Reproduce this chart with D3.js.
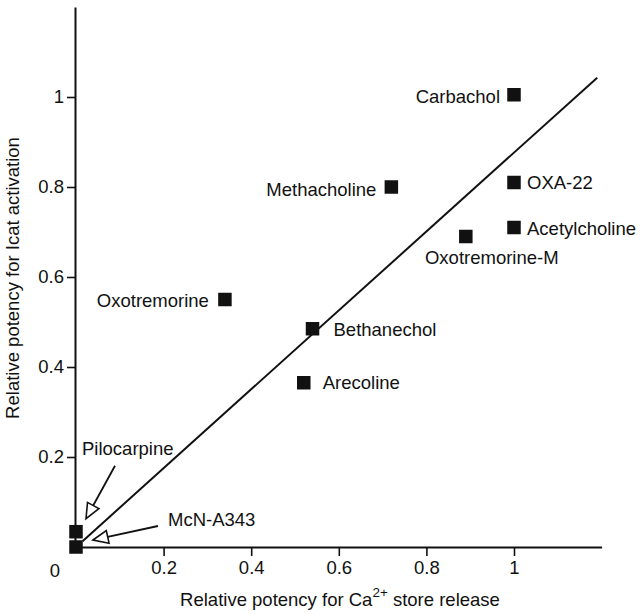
<!DOCTYPE html>
<html>
<head>
<meta charset="utf-8">
<script src="https://cdn.jsdelivr.net/npm/d3@7"></script>
<style>
  html, body { margin: 0; padding: 0; background: #fff; }
  svg { display: block; }
  text { font-family: "Liberation Sans", Arial, Helvetica, sans-serif; fill: #111; }
</style>
</head>
<body>
<svg id="chart" width="640" height="614"></svg>
<script>
// ---- data ----
const agonists = ["Carbachol", "OXA-22", "Acetylcholine", "Oxotremorine-M", "Methacholine",
                  "Oxotremorine", "Bethanechol", "Arecoline", "Pilocarpine", "McN-A343"];
const caPotency   = [1.00, 1.00, 1.00, 0.89, 0.72, 0.34, 0.54, 0.52, 0.00, 0.00];
const icatPotency = [1.005, 0.81, 0.71, 0.69, 0.80, 0.55, 0.485, 0.365, 0.034, 0.00];
const fitLineX = [0.015, 1.19];
const fitLineY = [0.013, 1.043];
const xTicks = [0.2, 0.4, 0.6, 0.8, 1];
const yTicks = [0.2, 0.4, 0.6, 0.8, 1];
const xTitle = ["Relative potency for Ca", "2+", " store release"];
const yTitle = "Relative potency for Icat activation";

// ---- label layout (pixel offsets from the point) ----
const labelLayout = {
  "Carbachol":      { dx: -14, dy: 8,  anchor: "end" },
  "OXA-22":         { dx: 13,  dy: 6,  anchor: "start" },
  "Acetylcholine":  { dx: 13,  dy: 7,  anchor: "start" },
  "Oxotremorine-M": { dx: 26,  dy: 27, anchor: "middle" },
  "Methacholine":   { dx: -15, dy: 9,  anchor: "end" },
  "Oxotremorine":   { dx: -16, dy: 7,  anchor: "end" },
  "Bethanechol":    { dx: 21,  dy: 7,  anchor: "start" },
  "Arecoline":      { dx: 19,  dy: 6,  anchor: "start" },
  "Pilocarpine":    { dx: 6,   dy: -77, anchor: "start" },
  "McN-A343":       { dx: 92,  dy: -21, anchor: "start" }
};
// arrows: from label to point (offsets in px relative to point)
const arrowLayout = {
  "Pilocarpine": { from: [39, -66], to: [10, -13] },
  "McN-A343":    { from: [82, -21], to: [17, -7] }
};

const FS = 18.5;
const svg = d3.select("#chart");
const x = d3.scaleLinear().domain([0, 1.2]).range([76, 601.6]);
const y = d3.scaleLinear().domain([0, 1.2]).range([547, 7]);

// axes
const xAxis = d3.axisBottom(x).tickValues(xTicks).tickFormat(d3.format("~g"))
  .tickSize(9).tickPadding(5).tickSizeOuter(0);
const yAxis = d3.axisLeft(y).tickValues(yTicks).tickFormat(d3.format("~g"))
  .tickSize(8).tickPadding(3).tickSizeOuter(0);

const gx = svg.append("g").attr("transform", `translate(0,${y(0)})`).call(xAxis);
const gy = svg.append("g").attr("transform", `translate(${x(0) - 1},0)`).call(yAxis);
[gx, gy].forEach(g => {
  g.select(".domain").attr("stroke", "#111").attr("stroke-width", 2);
  g.selectAll(".tick line").attr("stroke", "#111").attr("stroke-width", 1.6);
  g.selectAll(".tick text").attr("font-size", FS)
    .attr("font-family", '"Liberation Sans", Arial, sans-serif').attr("fill", "#111");
});
// origin label
svg.append("text").attr("x", x(0) - 21).attr("y", y(0) + 30)
  .attr("text-anchor", "middle").attr("font-size", FS).text("0");

// fit line
const line = d3.line().x(d => x(d[0])).y(d => y(d[1]));
svg.append("path").datum(fitLineX.map((v, i) => [v, fitLineY[i]]))
  .attr("d", line).attr("fill", "none").attr("stroke", "#111").attr("stroke-width", 2);

// points
const pts = agonists.map((name, i) => ({ name, cx: caPotency[i], cy: icatPotency[i] }));
const sz = 13.5;
svg.append("g").selectAll("rect").data(pts).join("rect")
  .attr("x", d => x(d.cx) - sz / 2)
  .attr("y", d => y(d.cy) - sz / 2)
  .attr("width", sz).attr("height", sz).attr("fill", "#111");

// labels
svg.append("g").selectAll("text").data(pts).join("text")
  .attr("x", d => x(d.cx) + labelLayout[d.name].dx)
  .attr("y", d => y(d.cy) + labelLayout[d.name].dy)
  .attr("text-anchor", d => labelLayout[d.name].anchor)
  .attr("font-size", FS)
  .text(d => d.name);

// arrows with open triangular heads
Object.keys(arrowLayout).forEach(name => {
  const p = pts.find(d => d.name === name);
  const px = x(p.cx), py = y(p.cy);
  const a = arrowLayout[name];
  const x1 = px + a.from[0], y1 = py + a.from[1];
  const x2 = px + a.to[0], y2 = py + a.to[1];
  const ang = Math.atan2(y2 - y1, x2 - x1);
  const L = 15, W = 6.5;
  const bx = x2 - L * Math.cos(ang), by = y2 - L * Math.sin(ang);
  svg.append("line").attr("x1", x1).attr("y1", y1).attr("x2", bx).attr("y2", by)
    .attr("stroke", "#111").attr("stroke-width", 1.8);
  const nx = -Math.sin(ang), ny = Math.cos(ang);
  svg.append("path")
    .attr("d", `M${x2},${y2}L${bx + nx * W},${by + ny * W}L${bx - nx * W},${by - ny * W}Z`)
    .attr("fill", "#fff").attr("stroke", "#111").attr("stroke-width", 1.6);
});

// axis titles
const xt = svg.append("text").attr("x", 340).attr("y", 606)
  .attr("text-anchor", "middle").attr("font-size", FS);
xt.append("tspan").text(xTitle[0]);
xt.append("tspan").attr("dy", -9).attr("font-size", 13.5).text(xTitle[1]);
xt.append("tspan").attr("dy", 9).text(xTitle[2]);

svg.append("text")
  .attr("transform", "translate(19,278) rotate(-90)")
  .attr("text-anchor", "middle").attr("font-size", FS)
  .text(yTitle);
</script>
</body>
</html>
